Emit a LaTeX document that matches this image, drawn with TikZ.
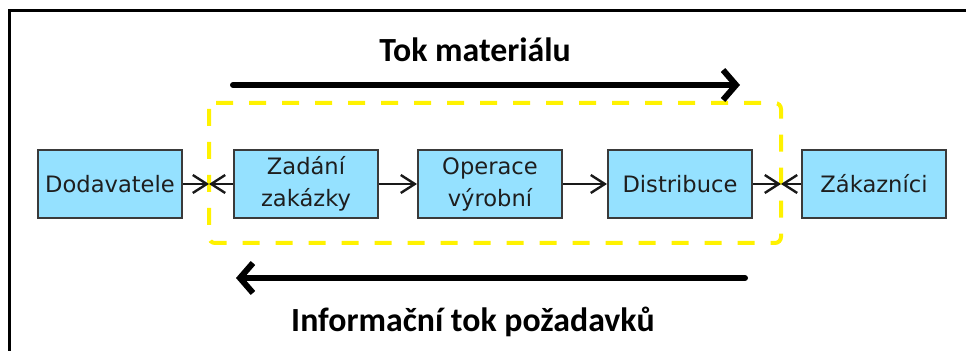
\documentclass[tikz,border=0pt]{standalone}
\usepackage{fontspec}
\setmainfont{DejaVu Sans}
\newfontfamily\headfont{Carlito}
\usepackage{xcolor}
\usetikzlibrary{arrows.meta,positioning,calc}
\definecolor{boxblue}{HTML}{95E1FF}
\definecolor{boxedge}{HTML}{3A3A3A}
\definecolor{dashyellow}{HTML}{FFF200}
\definecolor{boxtext}{HTML}{1E1E1E}

\begin{document}
\begin{tikzpicture}[
    x=0.5pt,y=-0.5pt,
    proc/.style    = {rectangle, draw=boxedge, fill=boxblue, line width=1pt,
                      align=center, font=\fontsize{11.3}{16}\selectfont,
                      text=boxtext, minimum width=72pt, minimum height=34pt,
                      inner sep=0pt},
    spoj/.style    = {-{Straight Barb[length=7pt,width=9pt]}, line width=1.2pt,
                      black!90},
    tok/.style     = {-{Straight Barb[length=6.5pt,width=15pt]}, line width=3pt,
                      line cap=round},
    nadpis/.style  = {font=\headfont\bfseries\fontsize{16.9}{19}\selectfont},
    ramec/.style   = {dashyellow, line width=2pt, dash pattern=on 8.5pt off 8pt,
                      rounded corners=3pt},
  ]

  \useasboundingbox (0,0) rectangle (966,351);
  \draw[line width=1.5pt] (9,351) -- (9,11) -- (966,11);

  \draw[ramec] (209,103) rectangle (781,243);

  \node[proc] (dod) at (110,184) {Dodavatele};
  \node[proc] (zad) at (306,184) {Zadání\\zakázky};
  \node[proc] (ope) at (490,184) {Operace\\výrobní};
  \node[proc] (dis) at (680,184) {Distribuce};
  \node[proc] (zak) at (874,184) {Zákazníci};

  \coordinate (hranaL) at (209,184);
  \coordinate (hranaP) at (781,184);

  \draw[spoj] (dod) -- (hranaL);
  \draw[spoj] (zad) -- (hranaL);
  \draw[spoj] (zad) -- (ope);
  \draw[spoj] (ope) -- (dis);
  \draw[spoj] (dis) -- (hranaP);
  \draw[spoj] (zak) -- (hranaP);

  % toky
  \node[nadpis] (tm) at (475,50) {Tok materiálu};
  \coordinate (tmA) at (233,85);
  \coordinate (tmB) at (740,85);
  \draw[tok] (tmA) -- (tmB);

  \coordinate (itA) at (745,278);
  \coordinate (itB) at (236,278);
  \draw[tok] (itA) -- (itB);
  \node[nadpis] (it) at (473,322) {Informační tok požadavků};

\end{tikzpicture}
\end{document}
